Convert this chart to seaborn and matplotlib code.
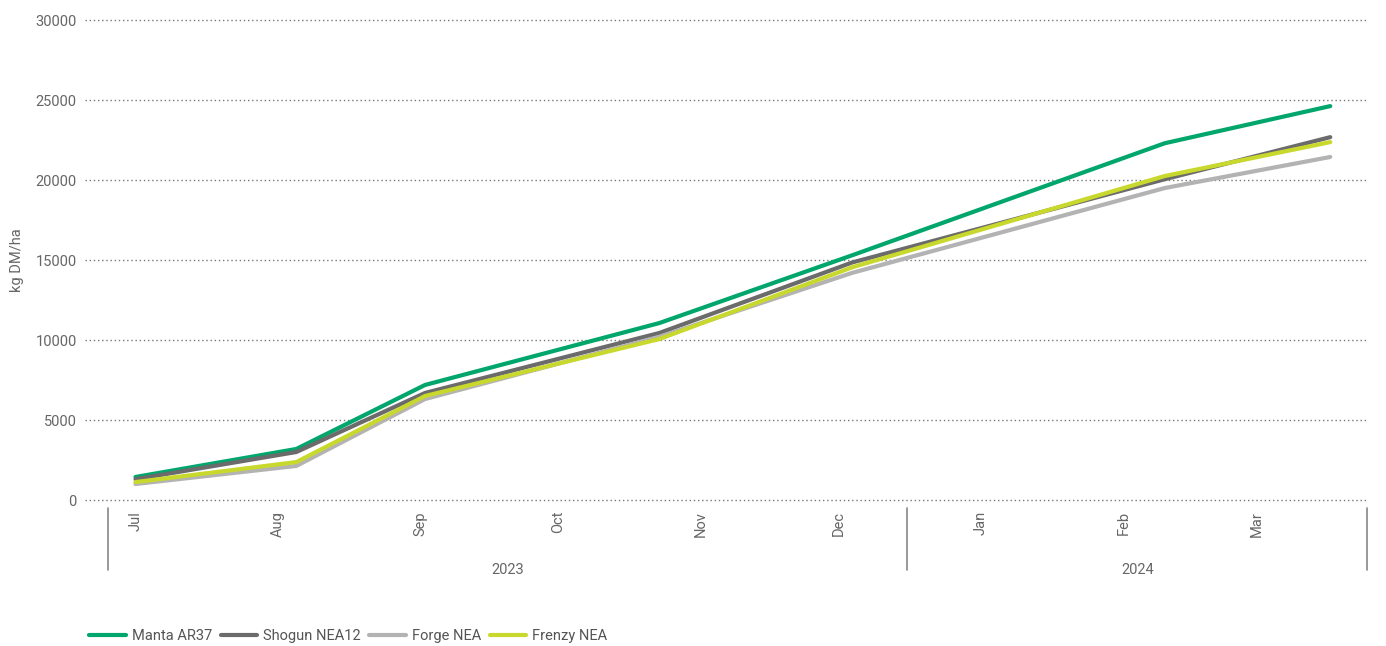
import pandas as pd
import matplotlib.pyplot as plt
import matplotlib.dates as mdates
import matplotlib.transforms as mtransforms
from matplotlib.lines import Line2D
import seaborn as sns

# values (kg DM/ha, cumulative)
dates = ['2023-07-01', '2023-08-05', '2023-09-02', '2023-10-23',
         '2023-12-04', '2024-02-10', '2024-03-17']
manta = [1440, 3190, 7190, 11060, 15300, 22300, 24620]
shogun = [1300, 3000, 6690, 10440, 14850, 20050, 22680]
forge = [1000, 2130, 6310, 10200, 14200, 19500, 21440]
frenzy = [1120, 2370, 6500, 10060, 14550, 20250, 22370]

cultivars = ['Manta AR37', 'Shogun NEA12', 'Forge NEA', 'Frenzy NEA']
colors = ['#00a66c', '#6b6b6b', '#b3b3b3', '#c8d82c']
months = pd.date_range('2023-07-01', '2024-03-01', freq='MS')
years = ['2023', '2024']
year_bounds = ['2023-06-25', '2023-12-16', '2024-03-25']

df = pd.DataFrame({
    'Date': pd.to_datetime(dates * 4),
    'kg': manta + shogun + forge + frenzy,
    'Cultivar': [c for c in cultivars for _ in dates],
})

sns.set_style('white')
plt.rcParams['font.family'] = ['Roboto', 'DejaVu Sans']

fig = plt.figure(figsize=(13.86, 6.46), dpi=100)
ax = fig.add_axes([0.0613, 0.226, 0.925, 0.743])

sns.lineplot(data=df, x='Date', y='kg', hue='Cultivar', hue_order=cultivars,
             palette=colors, linewidth=3, legend=False, ax=ax)

ax.set_ylim(0, 30000)
ax.set_xlim(pd.Timestamp('2023-06-20'), pd.Timestamp('2024-03-25'))
ax.set_yticks(range(0, 30001, 5000))
ax.yaxis.grid(True, linestyle=(0, (1, 2)), color='#777777', linewidth=1)
ax.set_axisbelow(True)
for gl in ax.get_ygridlines():
    gl.set_clip_on(False)
for s in ax.spines.values():
    s.set_visible(False)

ax.set_xticks(months)
ax.xaxis.set_major_formatter(mdates.DateFormatter('%b'))
ax.tick_params(axis='x', rotation=90, length=0, pad=8, labelsize=10.5, labelcolor='#666666')
ax.tick_params(axis='y', length=0, pad=6, labelsize=10.5, labelcolor='#666666')
for lab in ax.get_xticklabels():
    lab.set_verticalalignment('top')
ax.set_xlabel('')
ax.set_ylabel('kg DM/ha', fontsize=10.5, color='#666666', labelpad=8)

# year grouping below the month labels
trans = mtransforms.blended_transform_factory(ax.transData, ax.transAxes)
for b in year_bounds:
    xb = mdates.date2num(pd.Timestamp(b))
    ax.add_line(Line2D([xb, xb], [-0.017, -0.146], transform=trans,
                       color='#888888', linewidth=1.2, clip_on=False))
for i, y in enumerate(years):
    x0 = mdates.date2num(pd.Timestamp(year_bounds[i]))
    x1 = mdates.date2num(pd.Timestamp(year_bounds[i + 1]))
    ax.text((x0 + x1) / 2, -0.145, y, transform=trans, ha='center', va='center',
            fontsize=10.5, color='#666666')

handles = [Line2D([], [], color=c, linewidth=3) for c in colors]
fig.legend(handles, cultivars, loc='center left', bbox_to_anchor=(0.055, 0.015),
           ncol=4, frameon=False, fontsize=10.5, handlelength=2.5, handletextpad=0.4,
           columnspacing=0.6, labelcolor='#555555')

fig.savefig('out.png', dpi=100)
